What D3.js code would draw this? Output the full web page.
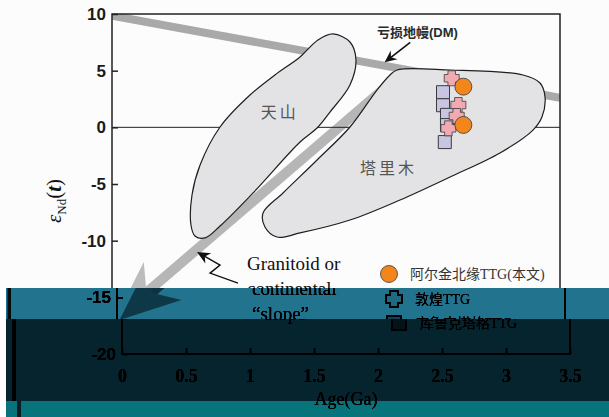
<!DOCTYPE html>
<html lang="zh">
<head>
<meta charset="UTF-8" />
<title>eNd(t) - Age</title>
<script src="https://d3js.org/d3.v7.min.js"></script>
<style>
  body { margin: 0; background: #fff; }
  svg { display: block; }
</style>
</head>
<body>
<svg width="609" height="417"></svg>
<script>
// ---- values (Age in Ga, eNd(t)) ----
const xTicks = [0, 0.5, 1, 1.5, 2, 2.5, 3, 3.5];
const yTicks = [-20, -15, -10, -5, 0, 5, 10];

// depleted mantle evolution line
const dmLine = [[0, 9.85], [3.5, 2.6]];
// crustal ("slope") evolution arrow: start, tip
const slopeLine = [[2.3, 5.1], [0.02, -17.0]];

// 天山 field outline
const tianshanField = [
  [1.727, 8.24], [1.859, 7.53], [1.906, 5.94], [1.859, 3.74], [1.703, 1.35],
  [1.602, -0.06], [1.469, -1.29], [1.102, -5.79], [0.844, -8.71], [0.727, -9.76],
  [0.648, -9.59], [0.617, -8.62], [0.625, -5.97], [0.688, -3.32], [0.844, 0.03],
  [1.078, 2.85], [1.273, 4.62], [1.469, 6.21], [1.609, 7.71]
];
// 塔里木 field outline
const tarimField = [
  [2.227, 5.06], [2.641, 5.06], [3.211, 4.62], [3.344, 3.91], [3.383, 2.68],
  [3.359, 0.91], [3.289, -0.24], [3.031, -2.26], [2.641, -4.38], [2.25, -6.41],
  [1.859, -8.18], [1.469, -9.32], [1.289, -9.68], [1.195, -8.79], [1.18, -7.56],
  [1.336, -5.79], [1.602, -2.88], [1.859, 0.03], [2.07, 3.29], [2.172, 4.62]
];

// samples
const klkAge = [2.586, 2.586, 2.617, 2.617, 2.60];
const klkEps = [3.1, 1.95, 1.1, 0.2, -1.3];
const dhAge = [2.654, 2.706, 2.693, 2.628];
const dhEps = [4.33, 1.97, 1.0, -0.09];
const akjAge = [2.745, 2.745];
const akjEps = [3.59, 0.21];

const legendNames = ["阿尔金北缘TTG(本文)", "敦煌TTG", "库鲁克塔格TTG"];

// annotations (data units)
const dmArrow = [[2.33, 7.5], [2.13, 5.75]];
const dmLabelAt = [2.07, 8.0];
const squiggle = [[0.984, -13.74], [0.766, -12.86], [0.844, -12.15], [0.664, -11.0]];
const granitoidAt = [1.055, -12.6];
const granitoidLines = ["Granitoid or", "continental", "\u201cslope\u201d"];
const tianshanLabelAt = [1.31, 1.3];
const tarimLabelAt = [2.16, -3.6];

// ---- setup ----
const W = 609, H = 417;
const svg = d3.select("svg");
const defs = svg.append("defs");
const chart = defs.append("g").attr("id", "chart");

const x = d3.scaleLinear().domain([0, 3.5]).range([112, 560]);
const y = d3.scaleLinear().domain([-20, 10]).range([354, 14]);
const pt = d => [x(d[0]), y(d[1])];

// plus-shaped symbol with fat arms
const plusSymbol = {
  draw(ctx, size) {
    const r = Math.sqrt(size) / 2, a = r * 0.5;
    ctx.moveTo(-r, -a); ctx.lineTo(-a, -a); ctx.lineTo(-a, -r); ctx.lineTo(a, -r);
    ctx.lineTo(a, -a); ctx.lineTo(r, -a); ctx.lineTo(r, a); ctx.lineTo(a, a);
    ctx.lineTo(a, r); ctx.lineTo(-a, r); ctx.lineTo(-a, a); ctx.lineTo(-r, a);
    ctx.closePath();
  }
};

// arrow head polygon, pixel space
function arrowHead(from, tip, len, half, notch) {
  const dx = tip[0] - from[0], dy = tip[1] - from[1];
  const L = Math.hypot(dx, dy), ux = dx / L, uy = dy / L, nx = -uy, ny = ux;
  const p = d3.path();
  p.moveTo(tip[0], tip[1]);
  p.lineTo(tip[0] - len * ux + half * nx, tip[1] - len * uy + half * ny);
  p.lineTo(tip[0] - notch * ux, tip[1] - notch * uy);
  p.lineTo(tip[0] - len * ux - half * nx, tip[1] - len * uy - half * ny);
  p.closePath();
  return { d: p.toString(), base: [tip[0] - notch * ux, tip[1] - notch * uy] };
}

chart.append("rect").attr("x", -40).attr("y", 0).attr("width", W + 80).attr("height", H)
  .attr("fill", "#fcfcfc");

defs.append("clipPath").attr("id", "plot-clip").append("rect")
  .attr("x", x(0)).attr("y", y(10)).attr("width", x(3.5) - x(0)).attr("height", y(-20) - y(10));

// DM line
chart.append("path")
  .attr("clip-path", "url(#plot-clip)")
  .attr("d", d3.line().x(d => x(d[0])).y(d => y(d[1]))(dmLine))
  .attr("stroke", "#a9a9a9").attr("stroke-width", 8).attr("fill", "none");

// slope arrow
const sFrom = pt(slopeLine[0]), sTip = pt(slopeLine[1]);
const sHead = arrowHead(sFrom, sTip, 60, 25, 42);
chart.append("path")
  .attr("d", d3.line()([sFrom, sHead.base]))
  .attr("stroke", "#b6b6b6").attr("stroke-width", 10).attr("fill", "none");
chart.append("path").attr("d", sHead.d).attr("fill", "#bcbcbc");

// zero line
chart.append("line")
  .attr("x1", x(0)).attr("x2", x(3.5)).attr("y1", y(0)).attr("y2", y(0))
  .attr("stroke", "#222").attr("stroke-width", 1);

// fields
const fieldLine = d3.line().x(d => x(d[0])).y(d => y(d[1])).curve(d3.curveCatmullRomClosed.alpha(0.5));
chart.selectAll("path.field")
  .data([tianshanField, tarimField])
  .join("path")
  .attr("class", "field")
  .attr("d", fieldLine)
  .attr("fill", "#e3e3e5").attr("stroke", "#1e1e1e").attr("stroke-width", 1.2);

chart.append("text")
  .attr("x", x(tianshanLabelAt[0])).attr("y", y(tianshanLabelAt[1])).attr("dy", "0.35em")
  .attr("text-anchor", "middle").attr("font-family", "Noto Sans CJK SC")
  .attr("font-size", 16).attr("letter-spacing", 3).attr("fill", "#555").text("天山");
chart.append("text")
  .attr("x", x(tarimLabelAt[0])).attr("y", y(tarimLabelAt[1])).attr("dy", "0.35em")
  .attr("text-anchor", "middle").attr("font-family", "Noto Sans CJK SC")
  .attr("font-size", 16).attr("letter-spacing", 3).attr("fill", "#555").text("塔里木");

// samples
const klk = klkAge.map((a, i) => [a, klkEps[i]]);
const dh = dhAge.map((a, i) => [a, dhEps[i]]);
const akj = akjAge.map((a, i) => [a, akjEps[i]]);

chart.append("g").selectAll("path").data(klk).join("path")
  .attr("transform", d => `translate(${x(d[0])},${y(d[1])})`)
  .attr("d", d3.symbol(d3.symbolSquare, 169))
  .attr("fill", "#c8c5e2").attr("stroke", "#3a3a3a").attr("stroke-width", 1);
chart.append("g").selectAll("path").data(dh).join("path")
  .attr("transform", d => `translate(${x(d[0])},${y(d[1])})`)
  .attr("d", d3.symbol(plusSymbol, 225))
  .attr("fill", "#f3a9b2").attr("stroke", "#3a3a3a").attr("stroke-width", 0.8);
chart.append("g").selectAll("circle").data(akj).join("circle")
  .attr("cx", d => x(d[0])).attr("cy", d => y(d[1])).attr("r", 8.5)
  .attr("fill", "#f2861c").attr("stroke", "#3a3a3a").attr("stroke-width", 0.8);

// axes
const yAxis = d3.axisLeft(y).tickValues(yTicks).tickSizeInner(-6).tickSizeOuter(0)
  .tickPadding(6).tickFormat(d => String(d));
const gy = chart.append("g").attr("transform", `translate(${x(0)},0)`).call(yAxis);
gy.selectAll("text").attr("font-family", "Liberation Sans").attr("font-weight", "bold")
  .attr("font-size", 17).attr("fill", "#1a1a1a");

const xAxis = d3.axisBottom(x).tickValues(xTicks).tickSizeInner(-6).tickSizeOuter(0)
  .tickPadding(15).tickFormat(d => String(d));
const gx = chart.append("g").attr("transform", `translate(0,${y(-20)})`).call(xAxis);
gx.selectAll("text").attr("font-family", "Liberation Serif").attr("font-weight", "bold")
  .attr("font-size", 18).attr("fill", "#1a1a1a");

chart.selectAll(".tick line").attr("stroke", "#222").attr("stroke-width", 1.5);
chart.selectAll(".domain").remove();
chart.append("rect")
  .attr("x", x(0)).attr("y", y(10)).attr("width", x(3.5) - x(0)).attr("height", y(-20) - y(10))
  .attr("fill", "none").attr("stroke", "#222").attr("stroke-width", 1.5);

// axis titles
const yt = chart.append("text")
  .attr("transform", `translate(61,${(y(10) + y(-20)) / 2 + 17}) rotate(-90)`)
  .attr("text-anchor", "middle").attr("font-family", "Liberation Serif").attr("font-size", 21)
  .attr("fill", "#111");
yt.append("tspan").attr("font-style", "italic").text("\u03b5");
yt.append("tspan").attr("font-size", 13).attr("dy", 5).text("Nd");
yt.append("tspan").attr("dy", -5).text("(");
yt.append("tspan").attr("font-style", "italic").attr("font-weight", "bold").text("t");
yt.append("tspan").text(")");

chart.append("text")
  .attr("x", (x(0) + x(3.5)) / 2).attr("y", 405)
  .attr("text-anchor", "middle").attr("font-family", "Liberation Serif").attr("font-size", 18)
  .attr("fill", "#111").text("Age(Ga)");

// DM annotation
const dA = dmArrow.map(pt);
const dHead = arrowHead(dA[0], dA[1], 12, 5.5, 8);
chart.append("path").attr("d", d3.line()([dA[0], dHead.base]))
  .attr("stroke", "#111").attr("stroke-width", 1.6).attr("fill", "none");
chart.append("path").attr("d", dHead.d).attr("fill", "#111");
chart.append("text")
  .attr("x", x(dmLabelAt[0])).attr("y", y(dmLabelAt[1]))
  .attr("font-family", "Liberation Sans, Noto Sans CJK SC").attr("font-size", 13)
  .attr("font-weight", "bold").attr("fill", "#2a2a2a").text("亏损地幔(DM)");

// granitoid annotation
const sq = squiggle.map(pt);
const qHead = arrowHead(sq[sq.length - 2], sq[sq.length - 1], 13, 6, 9);
chart.append("path").attr("d", d3.line()([...sq.slice(0, -1), qHead.base]))
  .attr("stroke", "#111").attr("stroke-width", 1.4).attr("fill", "none");
chart.append("path").attr("d", qHead.d).attr("fill", "#111");
chart.append("g").selectAll("text").data(granitoidLines).join("text")
  .attr("x", x(granitoidAt[0])).attr("y", (d, i) => y(granitoidAt[1]) + i * 25)
  .attr("font-family", "Liberation Serif").attr("font-size", 19).attr("fill", "#111")
  .text(d => d);

// legend
const legend = chart.append("g").attr("transform", "translate(389,274)");
const rows = legend.selectAll("g").data(legendNames).join("g")
  .attr("transform", (d, i) => `translate(0,${[0, 25, 49][i]})`);
rows.filter((d, i) => i === 0).append("circle").attr("r", 8.5)
  .attr("fill", "#f2861c").attr("stroke", "#3a3a3a").attr("stroke-width", 0.8);
rows.filter((d, i) => i === 1).append("path").attr("d", d3.symbol(plusSymbol, 256))
  .attr("fill", "#f3a9b2").attr("stroke", "#222").attr("stroke-width", 1.4);
rows.filter((d, i) => i === 2).append("path").attr("d", d3.symbol(d3.symbolSquare, 196))
  .attr("fill", "#c8c5e2").attr("stroke", "#222").attr("stroke-width", 1.4);
rows.append("text").attr("x", 21).attr("dy", "0.36em")
  .attr("font-family", "Liberation Serif, Noto Sans CJK SC").attr("font-size", 14)
  .attr("fill", "#333").text(d => d);

// ---- composite: clean top part + shifted, recoloured strips ----
defs.append("clipPath").attr("id", "clip-top").append("rect")
  .attr("x", 0).attr("y", 0).attr("width", W).attr("height", 288);
svg.append("g").attr("clip-path", "url(#clip-top)").append("use").attr("href", "#chart");

const strips = [
  { id: "a", y0: 288, y1: 319, shift: 5, edge: [7.5, 3.5], edgeFill: "#050a0c",
    m: "0.3 0 0 0 -0.165  0.93 0 0 0 -0.47  1.08 0 0 0 -0.515  0 0 0 1 0" },
  { id: "b", y0: 319, y1: 401, shift: 10, edge: [12, 4], edgeFill: "#000",
    m: "0.05 0 0 0 -0.03  0.317 0 0 0 -0.172  0.38 0 0 0 -0.196  0 0 0 1 0" },
  { id: "c", y0: 401, y1: H, shift: 10, edge: [17, 4], edgeFill: "#0b1e26",
    m: "0.09 0 0 0 -0.06  1.0 0 0 0 -0.533  1.1 0 0 0 -0.6  0 0 0 1 0" }
];
strips.forEach(s => {
  defs.append("clipPath").attr("id", "clip-" + s.id).append("rect")
    .attr("x", 6).attr("y", s.y0).attr("width", W - 6).attr("height", s.y1 - s.y0);
  defs.append("filter").attr("id", "f-" + s.id)
    .attr("filterUnits", "userSpaceOnUse").attr("x", 0).attr("y", 0)
    .attr("width", W).attr("height", H).attr("color-interpolation-filters", "sRGB")
    .append("feColorMatrix").attr("type", "matrix").attr("values", s.m);
  svg.append("g").attr("clip-path", `url(#clip-${s.id})`).attr("filter", `url(#f-${s.id})`)
    .append("use").attr("href", "#chart").attr("transform", `translate(${s.shift},0)`);
  svg.append("rect").attr("x", s.edge[0]).attr("y", s.y0).attr("width", s.edge[1])
    .attr("height", s.y1 - s.y0).attr("fill", s.edgeFill);
});
</script>
</body>
</html>
